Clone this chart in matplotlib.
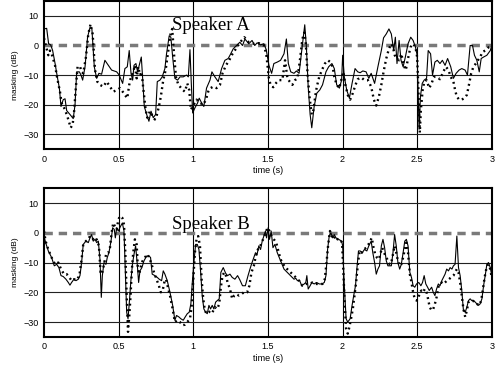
import matplotlib.pyplot as plt

# Speaker A, solid line
ta_solid = [0.0, 0.018, 0.031, 0.045, 0.058, 0.074, 0.089, 0.103, 0.114, 0.129, 0.141, 0.152, 0.174, 0.196,
            0.208, 0.219, 0.237, 0.248, 0.259, 0.275, 0.292, 0.308, 0.321, 0.337, 0.353, 0.368, 0.386, 0.408,
            0.431, 0.453, 0.487, 0.504, 0.527, 0.542, 0.558, 0.571, 0.583, 0.594, 0.603, 0.616, 0.627, 0.638,
            0.652, 0.661, 0.672, 0.688, 0.703, 0.717, 0.732, 0.748, 0.759, 0.777, 0.792, 0.810, 0.821, 0.839,
            0.850, 0.862, 0.877, 0.895, 0.911, 0.933, 0.955, 0.967, 0.978, 0.987, 0.996, 1.011, 1.029, 1.040,
            1.056, 1.071, 1.089, 1.112, 1.125, 1.145, 1.167, 1.190, 1.212, 1.234, 1.246, 1.268, 1.290, 1.312,
            1.330, 1.346, 1.372, 1.394, 1.412, 1.428, 1.451, 1.473, 1.489, 1.507, 1.525, 1.540, 1.563, 1.585,
            1.608, 1.624, 1.637, 1.653, 1.675, 1.691, 1.709, 1.727, 1.747, 1.758, 1.770, 1.783, 1.794, 1.810,
            1.828, 1.848, 1.866, 1.889, 1.907, 1.929, 1.945, 1.961, 1.979, 1.994, 2.001, 2.012, 2.028, 2.046,
            2.064, 2.084, 2.102, 2.118, 2.136, 2.158, 2.176, 2.192, 2.215, 2.237, 2.260, 2.275, 2.293, 2.311,
            2.327, 2.343, 2.354, 2.365, 2.379, 2.392, 2.406, 2.421, 2.439, 2.457, 2.473, 2.489, 2.500, 2.507,
            2.513, 2.522, 2.534, 2.547, 2.563, 2.574, 2.590, 2.603, 2.619, 2.635, 2.653, 2.669, 2.687, 2.704,
            2.725, 2.743, 2.761, 2.781, 2.799, 2.821, 2.837, 2.855, 2.871, 2.884, 2.900, 2.916, 2.929, 2.945,
            2.967, 2.990, 3.0]
ya_solid = [5.6, 5.8, 0.6, 0.2, -1.7, -6, -10.5, -14.4, -20.6, -18.3, -18, -22, -23.3, -24.7,
            -20, -8.9, -8.9, -10, -11.7, -7.2, 2.8, 6.1, 5.6, -7.2, -11.1, -9.4, -9.7, -5,
            -6.7, -8.3, -8.9, -10, -12.8, -7.8, -7.2, -1.7, -9.4, -11.7, -6.7, -6.1, -8.9, -6.7,
            -3.9, -11.1, -20.6, -23.3, -25.6, -22.2, -24.4, -23.3, -12.2, -11.7, -10.6, -7.8, -2.8, 3.3,
            2.8, -3.9, -11.1, -11.7, -10.6, -10.6, -10, -10.6, -1.4, -12.8, -22.8, -21.1, -19.4, -17.8,
            -19.4, -20.6, -14.4, -11.7, -8.9, -10.6, -12.2, -7.8, -5, -4.4, -3.3, -1.1, 0, 1.1,
            0, 2.2, 0.6, 1.7, 0, 0.9, 0.2, 0.6, -1.4, -6.7, -9.4, -6.1, -5.6, -5,
            -2.8, 2.2, -6.1, -8.9, -9.4, -8.6, -9.4, -1.7, 7, -0.6, -13.9, -23.3, -27.8, -20.6,
            -16.1, -15, -13.3, -8.9, -7.2, -6.1, -7.8, -13.3, -14.4, -11.7, -3.3, -10.6, -15, -17.8,
            -12.8, -7.8, -8.9, -9.2, -8.6, -8.9, -11.1, -9.4, -12.8, -7.2, -1.7, 2.6, 3.9, 5.6,
            3.9, -1.7, 2.8, -6.1, 1.7, -5, -7.2, -3.9, 0.6, 2.8, 1.7, -0.6, -3.3, -16.1,
            -28.3, -17.2, -12.8, -11.7, -11.1, -1.7, -2.8, -10, -5.6, -5, -6.1, -5, -6.7, -4.4,
            -7.2, -11.1, -9.4, -8.3, -7.8, -8.3, -10, 0, 0, -3.3, -5, -8.9, -4.4, -3.9,
            -3.3, -1.7, 0]

# Speaker A, dotted line
ta_dot = [0.0, 0.018, 0.029, 0.040, 0.051, 0.074, 0.089, 0.107, 0.118, 0.141, 0.163, 0.179, 0.192, 0.201,
          0.214, 0.225, 0.241, 0.252, 0.263, 0.281, 0.297, 0.312, 0.326, 0.342, 0.357, 0.375, 0.397, 0.420,
          0.442, 0.464, 0.491, 0.509, 0.527, 0.542, 0.558, 0.571, 0.583, 0.598, 0.609, 0.621, 0.632, 0.643,
          0.654, 0.665, 0.681, 0.692, 0.710, 0.728, 0.743, 0.754, 0.770, 0.783, 0.799, 0.815, 0.833, 0.848,
          0.859, 0.871, 0.884, 0.900, 0.911, 0.929, 0.944, 0.960, 0.973, 0.984, 0.996, 1.011, 1.022, 1.045,
          1.067, 1.085, 1.100, 1.116, 1.134, 1.156, 1.179, 1.196, 1.219, 1.241, 1.263, 1.286, 1.308, 1.324,
          1.342, 1.372, 1.406, 1.439, 1.473, 1.489, 1.507, 1.518, 1.536, 1.556, 1.574, 1.597, 1.615, 1.631,
          1.646, 1.664, 1.682, 1.698, 1.716, 1.731, 1.745, 1.754, 1.767, 1.781, 1.794, 1.806, 1.817, 1.828,
          1.844, 1.862, 1.882, 1.902, 1.918, 1.934, 1.945, 1.961, 1.979, 1.994, 2.006, 2.019, 2.035, 2.051,
          2.069, 2.087, 2.102, 2.125, 2.147, 2.170, 2.192, 2.210, 2.226, 2.244, 2.260, 2.275, 2.293, 2.311,
          2.327, 2.338, 2.350, 2.365, 2.379, 2.394, 2.410, 2.424, 2.439, 2.455, 2.473, 2.489, 2.500, 2.507,
          2.513, 2.518, 2.525, 2.537, 2.548, 2.563, 2.581, 2.597, 2.612, 2.630, 2.653, 2.675, 2.693, 2.710,
          2.725, 2.743, 2.754, 2.765, 2.781, 2.799, 2.815, 2.833, 2.849, 2.862, 2.877, 2.893, 2.907, 2.922,
          2.938, 2.956, 2.979, 3.0]
ya_dot = [2.5, -1.1, -3.3, -1.7, -2.8, -6.7, -11.1, -15.6, -19.4, -21.7, -25, -27.8, -26.7, -22.8,
          -13.9, -7.2, -7, -8.9, -9.4, -3.9, 3.9, 7.2, 3.9, -8.3, -12.2, -13.3, -13.9, -12.2,
          -13.9, -15.6, -15, -14.4, -15.6, -16.7, -17.8, -13.3, -10.6, -8.9, -6.7, -11.1, -7.2, -10,
          -8.9, -14.4, -21.7, -24.4, -22.2, -23.9, -25, -23.9, -20.6, -17.2, -11.7, -8.3, -1.7, 3.9,
          5.6, -2.8, -10.6, -13.3, -13.9, -15, -15.6, -12.8, -15, -21.7, -20.6, -19.4, -18.3, -19.4,
          -20, -18.3, -15.6, -14.4, -13.9, -14.4, -13.3, -9.4, -6.7, -5, -2.8, -1.1, 0.6, 1.7,
          2.8, 1.1, 0.6, 0.8, 0, -2.8, -11.1, -13.3, -14.1, -12.6, -11.7, -11.7, -5, -11.1,
          -12.2, -13.3, -11.7, -11.1, -4.4, 2.2, 4.4, 0.6, -10.6, -18.3, -23.3, -21.7, -17.2, -13.9,
          -10.6, -8.3, -6.1, -5, -5.6, -7.2, -10.6, -13.3, -14.4, -11.1, -8.9, -13.3, -16.7, -18.3,
          -16.1, -13.3, -11.4, -10.8, -11.7, -11.7, -13.9, -18.3, -20.3, -17.2, -13.3, -8.9, -4.4, -1.1,
          0.6, -0.6, -3.3, -4.4, -5, -2.8, -6.7, -8.3, -4.4, -0.6, 0.6, -0.6, -3.9, -12.8,
          -22.8, -29.4, -21.7, -15, -12.2, -11.7, -14.4, -12.8, -10.6, -10.6, -11.4, -8.9, -7.2, -8.3,
          -10.6, -12.2, -15, -17.2, -18.3, -18.3, -17.8, -16.7, -12.8, -9.4, -7.2, -6.1, -5, -3.9,
          -2.2, -1.7, -0.6, 0]

# Speaker B, solid line
tb_solid = [0.0, 0.011, 0.029, 0.051, 0.069, 0.085, 0.100, 0.114, 0.129, 0.147, 0.163, 0.174, 0.185, 0.201,
            0.214, 0.230, 0.241, 0.252, 0.263, 0.281, 0.297, 0.308, 0.319, 0.330, 0.342, 0.353, 0.364, 0.375,
            0.384, 0.391, 0.402, 0.415, 0.424, 0.435, 0.449, 0.460, 0.471, 0.478, 0.487, 0.498, 0.513, 0.525,
            0.536, 0.545, 0.554, 0.563, 0.571, 0.583, 0.594, 0.605, 0.614, 0.625, 0.634, 0.643, 0.656, 0.670,
            0.688, 0.703, 0.714, 0.725, 0.743, 0.759, 0.772, 0.788, 0.799, 0.810, 0.826, 0.844, 0.862, 0.877,
            0.888, 0.904, 0.917, 0.933, 0.946, 0.960, 0.973, 0.984, 0.993, 1.004, 1.016, 1.027, 1.038, 1.049,
            1.060, 1.071, 1.083, 1.094, 1.105, 1.116, 1.127, 1.138, 1.150, 1.161, 1.174, 1.185, 1.201, 1.217,
            1.230, 1.246, 1.261, 1.279, 1.297, 1.312, 1.330, 1.349, 1.367, 1.383, 1.394, 1.406, 1.417, 1.428,
            1.439, 1.451, 1.462, 1.473, 1.484, 1.491, 1.502, 1.511, 1.522, 1.534, 1.547, 1.563, 1.585, 1.608,
            1.630, 1.653, 1.675, 1.687, 1.698, 1.713, 1.727, 1.743, 1.754, 1.761, 1.770, 1.783, 1.794, 1.810,
            1.826, 1.844, 1.862, 1.878, 1.889, 1.900, 1.911, 1.922, 1.934, 1.945, 1.956, 1.974, 1.994, 2.001,
            2.012, 2.024, 2.035, 2.051, 2.064, 2.075, 2.087, 2.096, 2.107, 2.118, 2.132, 2.147, 2.163, 2.176,
            2.192, 2.203, 2.215, 2.226, 2.237, 2.248, 2.260, 2.271, 2.282, 2.293, 2.304, 2.316, 2.327, 2.338,
            2.349, 2.360, 2.371, 2.383, 2.394, 2.406, 2.417, 2.428, 2.439, 2.451, 2.462, 2.473, 2.484, 2.496,
            2.511, 2.525, 2.536, 2.547, 2.558, 2.570, 2.581, 2.597, 2.608, 2.619, 2.630, 2.642, 2.653, 2.665,
            2.676, 2.687, 2.698, 2.710, 2.721, 2.733, 2.743, 2.754, 2.766, 2.777, 2.788, 2.799, 2.810, 2.822,
            2.833, 2.844, 2.855, 2.866, 2.877, 2.889, 2.900, 2.911, 2.922, 2.934, 2.945, 2.956, 2.967, 2.978,
            2.990, 3.0]
yb_solid = [-1.1, -3.3, -6.1, -8.3, -11.1, -10.6, -11.7, -14.4, -14.7, -15.6, -16.7, -17.6, -16.7, -15.6,
            -16.1, -15.6, -14.4, -10, -3.9, -2.8, -3.3, -1.7, -0.6, -2.8, -2.2, -3.3, -2.8, -8.9,
            -21.7, -14.4, -10, -10.6, -8.3, -6.7, -2.8, 1.7, 1.1, -1.7, 1.7, 0.6, 2.2, 3.3,
            0.6, -13.3, -26.7, -28.9, -23.9, -15.6, -10, -6.7, -4.4, -10.6, -16.7, -12.8, -11.7, -9.4,
            -7.8, -7.8, -8.3, -13.9, -14.4, -15, -15.6, -16.1, -12.8, -13.9, -16.1, -20, -24.4, -29.4,
            -27.8, -28.3, -28.9, -29.4, -28.3, -27.2, -26.7, -23.9, -17.2, -10, -3.9, -3.9, -5.6, -12.8,
            -21.1, -25.6, -26.7, -27.2, -24.4, -25.6, -24.4, -25.6, -23.3, -22.8, -22.2, -13.3, -11.7, -13.6,
            -14.4, -13.9, -15, -15.6, -14.4, -15.8, -17.8, -17.8, -14.4, -11.7, -10, -8.3, -6.7, -7.2,
            -4.4, -5.6, -2.8, -1.1, 0.6, -1.7, 1.7, -2.2, 0.6, -5, -3.9, -6.7, -9.4, -12.2,
            -13.3, -14.4, -15.6, -15.3, -16.1, -16.1, -17.8, -17.2, -16.7, -14.4, -18.9, -17.8, -16.7, -17.2,
            -16.7, -17.2, -17.2, -16.7, -14.4, -5.6, -1.1, 0, -1.7, -0.6, -1.7, -2.2, -2.8, -4.4,
            -17.8, -28.9, -30, -28.9, -24.4, -21.1, -17.8, -12.2, -6.1, -6.1, -6.7, -5.6, -6.1, -4.4,
            -2.8, -6.7, -10, -13.9, -12.2, -11.1, -4.4, -2.2, -5, -9.4, -11.1, -11.1, -11.1, -6.7,
            -0.6, -4.4, -10, -12.2, -10.6, -6.7, -2.8, -2.2, -4.4, -13.3, -15, -17.8, -18.3, -17.2,
            -16.7, -17.8, -16.7, -14.4, -17.2, -18.3, -19.4, -18.3, -20, -21.1, -18.9, -17.2, -17.8, -16.1,
            -15, -13.9, -12.2, -12.8, -11.7, -12.2, -11.1, -10.6, -1.1, -11.7, -14.4, -19.4, -26.1, -26.7,
            -25, -22.8, -22.2, -22.8, -22.8, -23.3, -23.9, -24.4, -23.9, -22.2, -17.8, -14.4, -10.6, -10,
            -11.7, -14.4]

# Speaker B, dotted line
tb_dot = [0.0, 0.011, 0.029, 0.051, 0.074, 0.096, 0.114, 0.134, 0.152, 0.170, 0.185, 0.201, 0.219, 0.237,
          0.252, 0.263, 0.281, 0.297, 0.308, 0.324, 0.337, 0.353, 0.368, 0.379, 0.388, 0.400, 0.411, 0.420,
          0.431, 0.442, 0.453, 0.464, 0.475, 0.487, 0.498, 0.509, 0.525, 0.536, 0.545, 0.554, 0.563, 0.571,
          0.580, 0.589, 0.598, 0.609, 0.621, 0.629, 0.638, 0.650, 0.661, 0.676, 0.692, 0.705, 0.721, 0.737,
          0.754, 0.770, 0.783, 0.795, 0.806, 0.817, 0.828, 0.844, 0.862, 0.877, 0.893, 0.911, 0.926, 0.944,
          0.960, 0.978, 0.989, 1.000, 1.011, 1.022, 1.033, 1.045, 1.056, 1.067, 1.078, 1.089, 1.105, 1.116,
          1.129, 1.145, 1.161, 1.174, 1.185, 1.196, 1.208, 1.219, 1.230, 1.246, 1.261, 1.275, 1.290, 1.306,
          1.324, 1.339, 1.361, 1.376, 1.390, 1.406, 1.417, 1.433, 1.446, 1.457, 1.473, 1.484, 1.498, 1.511,
          1.525, 1.540, 1.556, 1.570, 1.585, 1.603, 1.619, 1.642, 1.664, 1.687, 1.709, 1.731, 1.754, 1.776,
          1.799, 1.821, 1.844, 1.866, 1.881, 1.893, 1.904, 1.916, 1.927, 1.938, 1.952, 1.967, 1.983, 1.997,
          2.006, 2.015, 2.024, 2.035, 2.046, 2.057, 2.069, 2.080, 2.091, 2.102, 2.114, 2.129, 2.143, 2.159,
          2.174, 2.185, 2.196, 2.208, 2.219, 2.230, 2.244, 2.255, 2.266, 2.278, 2.289, 2.304, 2.316, 2.327,
          2.338, 2.349, 2.360, 2.371, 2.383, 2.394, 2.406, 2.417, 2.428, 2.439, 2.451, 2.462, 2.473, 2.484,
          2.496, 2.507, 2.518, 2.529, 2.540, 2.551, 2.563, 2.573, 2.584, 2.597, 2.608, 2.619, 2.630, 2.642,
          2.653, 2.665, 2.676, 2.687, 2.698, 2.713, 2.727, 2.743, 2.754, 2.766, 2.777, 2.788, 2.799, 2.810,
          2.822, 2.833, 2.844, 2.855, 2.871, 2.886, 2.900, 2.916, 2.929, 2.941, 2.952, 2.963, 2.975, 2.987,
          3.0]
yb_dot = [0.6, -2.8, -5.6, -8.3, -10.6, -10, -12.2, -13.9, -13.9, -15, -16.1, -15.6, -15.9, -14.4,
          -8.9, -3.9, -2.8, -2.2, -1.1, -1.7, -2.8, -2.2, -4.4, -13.3, -13.9, -11.1, -8.3, -6.7,
          -6.7, -5, 0, 3.3, 2.2, 1.1, 4.4, 5.6, 5, 2.8, -6.7, -21.1, -33.3, -28.3,
          -21.1, -12.2, -6.7, -2.2, -3.9, -12.2, -13.9, -11.1, -9.4, -8.3, -7.2, -8.3, -10.6, -13.3,
          -15.6, -17.8, -20, -19.4, -16.7, -15.6, -17.8, -21.1, -25.6, -30, -29.4, -30, -31.1, -30.9,
          -30, -28.9, -25, -15.6, -6.7, -2.2, -1.1, -4.4, -15.6, -22.2, -26.1, -27.2, -26.7, -26.1,
          -26.7, -25, -25.6, -23.9, -18.3, -14.4, -13.3, -14.4, -16.7, -18.9, -22.2, -21.1, -20.6, -21.1,
          -20.6, -20, -20, -17.8, -13.3, -11.1, -8.3, -5.6, -5, -3.3, -1.7, 0, 1.7, 0.6,
          -1.1, -2.2, -3.3, -6.1, -8.9, -10.6, -11.7, -12.8, -13.9, -15, -16.1, -17.8, -17.2, -17.2,
          -16.7, -17.2, -17.2, -17.2, -15.6, -10, -3.9, 0.6, -0.9, -2.2, -1.1, -2.2, -2.2, -3.3,
          -13.3, -24.4, -32.2, -33.9, -31.7, -28.9, -25.6, -21.1, -16.7, -11.1, -6.1, -6.7, -5.6, -5,
          -3.9, -2.8, -1.7, -5, -7.2, -8.3, -8.9, -6.7, -5, -6.7, -7.8, -9.4, -10.6, -10,
          -7.2, -4.4, -6.7, -9.4, -11.1, -10.6, -8.3, -5.6, -3.3, -6.7, -13.9, -16.7, -20, -22.2,
          -22.8, -22.2, -20, -19.4, -20, -18.9, -20, -22.2, -25, -26.1, -25.6, -23.9, -21.7, -18.3,
          -17.2, -16.7, -17.2, -16.7, -16.1, -15.6, -15, -14.4, -13.3, -12.2, -13.3, -16.7, -21.1, -25.6,
          -28.3, -26.1, -23.3, -22.8, -22.8, -23.3, -23.9, -24.4, -22.8, -18.9, -15, -12.2, -10.6, -11.7,
          -15]

yticks = [-30, -20, -10, 0, 10]
xticks = [0, 0.5, 1, 1.5, 2, 2.5, 3]
xtick_labels = ['0', '0.5', '1', '1.5', '2', '2.5', '3']
speakers = ['Speaker A', 'Speaker B']
label_pos = [(0.855, 5.2), (0.86, 1.3)]

fig = plt.figure(figsize=(4.97, 3.69), dpi=100)
ax1 = fig.add_axes([0.0885, 0.596, 0.901, 0.401])
ax2 = fig.add_axes([0.0885, 0.087, 0.901, 0.403])

series = [(ta_solid, ya_solid, ta_dot, ya_dot), (tb_solid, yb_solid, tb_dot, yb_dot)]
for i, ax in enumerate([ax1, ax2]):
    ts, ys, td, yd = series[i]
    # grid (the 0 dB line is covered by the dashed reference)
    for x in xticks[1:-1]:
        ax.axvline(x, color='black', lw=0.8, zorder=1)
    for y in yticks:
        if y != 0:
            ax.axhline(y, color='#222222', lw=0.8, zorder=1)
    ax.axhline(0, color='#7a7a7a', lw=2.5, ls=(0, (2.4, 1.7)), zorder=2)
    ax.plot(ts, ys, color='black', lw=0.8, zorder=3)
    ax.plot(td, yd, color='black', lw=1.7, ls=(0, (0.8, 1.5)), zorder=3)
    ax.set_xlim(0, 3)
    ax.set_ylim(-35, 15)
    ax.set_xticks(xticks)
    ax.set_xticklabels(xtick_labels)
    ax.set_yticks(yticks)
    ax.tick_params(length=0, labelsize=6.5, pad=4)
    for lab in ax.get_xticklabels() + ax.get_yticklabels():
        lab.set_family('Liberation Sans')
    for s in ax.spines.values():
        s.set_linewidth(1.5)
    ax.set_xlabel('time (s)', fontsize=6.5, family='Liberation Sans', labelpad=2)
    ax.set_ylabel('masking (dB)', fontsize=6, family='Liberation Sans', labelpad=3)
    ax.text(label_pos[i][0], label_pos[i][1], speakers[i], family='Liberation Serif',
            fontsize=13.5, va='baseline', ha='left', zorder=4)

fig.savefig('out.png', dpi=100)
